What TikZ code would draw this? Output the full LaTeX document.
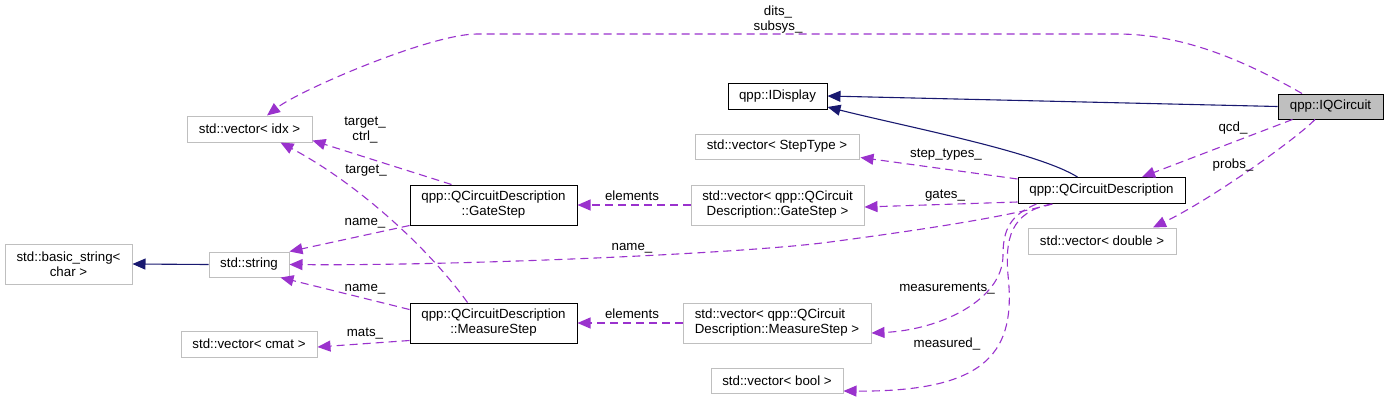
\documentclass[tikz,border=0pt]{standalone}
\usepackage{fontspec}
\setmainfont{Liberation Sans}
\usetikzlibrary{arrows.meta,calc}
\definecolor{edgepurple}{HTML}{9A32CD}
\definecolor{edgenavy}{HTML}{191970}
\definecolor{boxgrey}{HTML}{BFBFBF}
\begin{document}
\begin{tikzpicture}[x=1pt,y=-1pt,
  font=\fontsize{13.3}{15}\selectfont,
  box/.style={draw=black,line width=1pt,inner sep=0pt,align=center,fill=white},
  gbox/.style={draw=boxgrey,line width=1pt,inner sep=0pt,align=center,fill=white},
  usage/.style={draw=edgepurple,line width=1.1pt,dash pattern=on 8pt off 5pt,-{Triangle[length=13pt,width=11pt]}},
  inherit/.style={draw=edgenavy,line width=1.1pt,-{Triangle[length=13pt,width=11pt]}},
  lbl/.style={inner sep=0pt,align=center}]
\fill[white] (0,0) rectangle (1388,400);
\useasboundingbox (0,0) rectangle (1388,400);
% nodes
\node[box,fill=boxgrey,minimum width=105pt,minimum height=25pt] (iqc) at (1330.5,106.5) {qpp::IQCircuit};
\node[box,minimum width=99pt,minimum height=26pt] (idisp) at (777.5,96) {qpp::IDisplay};
\node[gbox,minimum width=164pt,minimum height=25pt] (vst) at (777,146.5) {std::vector< StepType >};
\node[box,minimum width=167pt,minimum height=26pt] (qcd) at (1101.5,190.5) {qpp::QCircuitDescription};
\node[gbox,minimum width=173pt,minimum height=40pt] (vgs) at (777.5,205) {std::vector< qpp::QCircuit\\Description::GateStep >};
\node[gbox,minimum width=148pt,minimum height=26pt] (vdbl) at (1102,241) {std::vector< double >};
\node[gbox,minimum width=125pt,minimum height=26pt] (vidx) at (249.5,129) {std::vector< idx >};
\node[box,minimum width=167pt,minimum height=40pt] (gs) at (493.5,205) {qpp::QCircuitDescription\\::GateStep};
\node[gbox,minimum width=127pt,minimum height=40pt] (bstr) at (68.5,264) {std::basic\_string<\\char >};
\node[gbox,minimum width=80pt,minimum height=25pt] (str) at (249,264.5) {std::string};
\node[box,minimum width=167pt,minimum height=40pt] (ms) at (493.5,323) {qpp::QCircuitDescription\\::MeasureStep};
\node[gbox,minimum width=136pt,minimum height=26pt] (vcmat) at (249,344) {std::vector< cmat >};
\node[gbox,align=left,minimum width=188pt,minimum height=40pt] (vms) at (777,323) {std::vector< qpp::QCircuit\\Description::MeasureStep >};
\node[gbox,minimum width=132pt,minimum height=25pt] (vbool) at (777,381) {std::vector< bool >};
% inheritance
\draw[inherit] (iqc.west) -- (idisp.east);
\draw[inherit] ($(qcd.north)+(-24,0)$) .. controls +(-40,-25) and +(80,20) .. ($(idisp.east)+(0,11)$);
\draw[inherit] (str.west) -- (bstr.east);
% usage
\draw[usage] ($(iqc.south west)+(15,0)$) -- ($(qcd.north)+(40.5,0)$);
\draw[usage] ($(iqc.south)+(-15.5,0)$) .. controls (1295,140) and (1210,200) .. ($(vdbl.north)+(51,0)$);
\coordinate (d1) at (1117,34);
\coordinate (d2) at (477,34);
\draw[usage] ($(iqc.north)+(-28.5,0)$) .. controls (1240,58) and (1180,34) .. (d1) -- (d2) .. controls (430,34) and (300,90) .. ($(vidx.north)+(17.5,0)$);
\draw[usage] ($(qcd.north west)+(0,2)$) -- ($(vst.south east)+(1,-2)$);
\draw[usage] ($(qcd.south west)+(0,-2)$) -- ($(vgs.east)+(0,2)$);
\coordinate (n1) at (830,242);
\draw[usage] ($(qcd.south west)+(35,0)$) .. controls (1000,218) and (920,230) .. (n1) .. controls (740,254) and (450,266) .. (str.east);
\coordinate (m1) at (1003,255);
\draw[usage] ($(qcd.south west)+(19,0)$) .. controls (1010,215) and (1003,230) .. (m1) .. controls (1003,300) and (940,330) .. ($(vms.east)+(0,10)$);
\coordinate (b1) at (1008,275);
\draw[usage] ($(qcd.south west)+(34,0)$) .. controls (1010,212) and (1005,240) .. (b1) .. controls (1016,350) and (990,392) .. ($(vbool.east)+(0,10)$);
\draw[usage] (vgs.west) -- (gs.east);
\draw[usage] (vms.west) -- (ms.east);
\draw[usage] ($(gs.north west)+(42,0)$) -- ($(vidx.south east)+(0,-2)$);
\draw[usage] ($(ms.north west)+(58,0)$) .. controls (430,250) and (360,185) .. ($(vidx.south east)+(-32,0)$);
\draw[usage] (gs.south west) -- (str.north east);
\draw[usage] ($(ms.north west)+(0,7)$) -- ($(str.south east)+(-9,0)$);
\draw[usage] ($(ms.south west)+(0,-3)$) -- ($(vcmat.east)+(0,3)$);
% labels
\node[lbl] (ldits) at (778,19.5) {dits\_\\subsys\_};
\node[lbl] (lqcd) at (1233,128) {qcd\_};
\node[lbl] (lprobs) at (1233,165) {probs\_};
\node[lbl] (lsteps) at (946,155) {step\_types\_};
\node[lbl] (lgates) at (945,196) {gates\_};
\node[lbl] (lname0) at (632,248) {name\_};
\node[lbl] (lmeas) at (947,289) {measurements\_};
\node[lbl] (lmeasd) at (947,344) {measured\_};
\node[lbl] (lel1) at (632,196) {elements};
\node[lbl] (lel2) at (632,314) {elements};
\node[lbl] (ltc) at (365,130) {target\_\\ctrl\_};
\node[lbl] (lt) at (366,171) {target\_};
\node[lbl] (ln1) at (365,223) {name\_};
\node[lbl] (ln2) at (365,289) {name\_};
\node[lbl] (lmats) at (365,334) {mats\_};
\end{tikzpicture}
\end{document}
